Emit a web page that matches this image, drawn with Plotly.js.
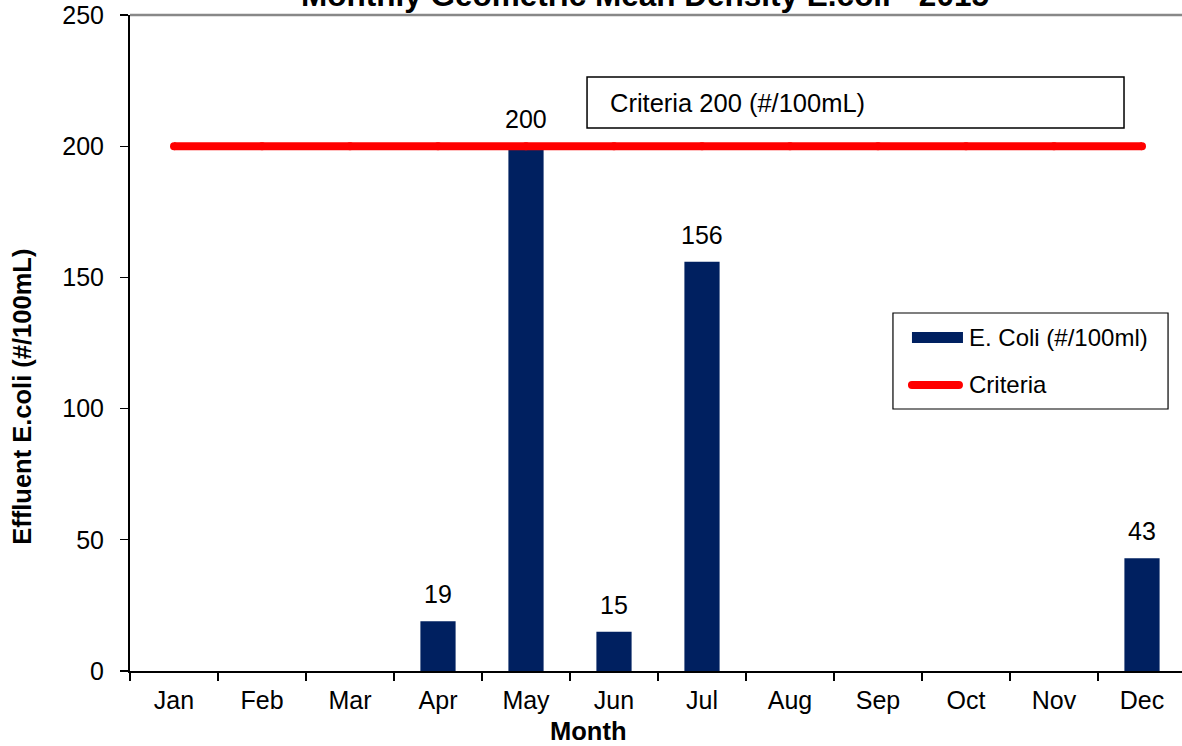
<!DOCTYPE html>
<html>
<head>
<meta charset="utf-8">
<script src="https://cdn.plot.ly/plotly-3.0.1.min.js"></script>
<style>
  html, body { margin: 0; padding: 0; overflow: hidden; background: #fff; }
  #chart { width: 1196px; height: 746px; }
</style>
</head>
<body>
<div id="chart"></div>
<script>
// Monthly geometric mean E. coli density in plant effluent
const months = ['Jan', 'Feb', 'Mar', 'Apr', 'May', 'Jun', 'Jul', 'Aug', 'Sep', 'Oct', 'Nov', 'Dec'];
const ecoli = [null, null, null, 19, 200, 15, 156, null, null, null, null, 43];
const criteria = [200, 200, 200, 200, 200, 200, 200, 200, 200, 200, 200, 200];
const yTicks = [0, 50, 100, 150, 200, 250];

const FONT = 'Arial, "Liberation Sans", sans-serif';
const NAVY = '#002060';
const RED = '#ff0000';

const bars = {
  type: 'bar',
  name: 'E. Coli (#/100ml)',
  x: months,
  y: ecoli,
  width: 0.4,
  marker: { color: NAVY, line: { width: 0 } },
  hoverinfo: 'x+y'
};

const criteriaLine = {
  type: 'scatter',
  mode: 'lines+markers',
  name: 'Criteria',
  x: months,
  y: criteria,
  line: { color: RED, width: 8 },
  marker: { color: RED, size: 8 },
  hoverinfo: 'y'
};

// value labels above each bar
const valueLabels = [];
ecoli.forEach(function (v, i) {
  if (v === null) return;
  valueLabels.push({
    x: months[i], y: v, xref: 'x', yref: 'y',
    text: String(v), showarrow: false,
    yanchor: 'bottom', yshift: 11,
    font: { family: FONT, size: 25, color: '#000' }
  });
});

const annotations = valueLabels.concat([
  {
    text: '<b>Monthly Geometric Mean Density E.coli - 2015</b>',
    xref: 'paper', yref: 'paper', x: 0.4877, y: 1.0,
    xanchor: 'center', yanchor: 'bottom', showarrow: false,
    font: { family: FONT, size: 31.5, color: '#000' }
  },
  {
    text: '<b>Effluent E.coli (#/100mL)</b>',
    xref: 'paper', yref: 'paper', x: -0.1023, y: 0.418,
    xanchor: 'center', yanchor: 'middle', textangle: -90, showarrow: false,
    font: { family: FONT, size: 25.5, color: '#000' }
  },
  {
    text: '<b>Month</b>',
    xref: 'paper', yref: 'paper', x: 0.4337, y: -0.0915,
    xanchor: 'center', yanchor: 'middle', showarrow: false,
    font: { family: FONT, size: 25.5, color: '#000' }
  },
  {
    text: 'Criteria 200 (#/100mL)',
    xref: 'paper', yref: 'paper', x: 0.4527, y: 0.8659,
    xanchor: 'left', yanchor: 'middle', showarrow: false,
    font: { family: FONT, size: 25.5, color: '#000' }
  },
  {
    text: 'E. Coli (#/100ml)',
    xref: 'paper', yref: 'paper', x: 0.7926, y: 0.5091,
    xanchor: 'left', yanchor: 'middle', showarrow: false,
    font: { family: FONT, size: 24, color: '#000' }
  },
  {
    text: 'Criteria',
    xref: 'paper', yref: 'paper', x: 0.7926, y: 0.436,
    xanchor: 'left', yanchor: 'middle', showarrow: false,
    font: { family: FONT, size: 24, color: '#000' }
  }
]);

const shapes = [
  // top border of the plot area
  { type: 'line', xref: 'paper', yref: 'paper', x0: 0, x1: 1, y0: 1, y1: 1,
    line: { color: '#888888', width: 2.5 } },
  // criteria callout box
  { type: 'rect', xref: 'paper', yref: 'paper', x0: 0.4328, x1: 0.9413, y0: 0.8277, y1: 0.9055,
    line: { color: '#000', width: 1.5 }, fillcolor: '#fff' },
  // legend frame
  { type: 'rect', xref: 'paper', yref: 'paper', x0: 0.7225, x1: 0.9830, y0: 0.3994, y1: 0.5457,
    line: { color: '#000', width: 1.2 }, fillcolor: '#fff' },
  // legend swatch: bars
  { type: 'rect', xref: 'paper', yref: 'paper', x0: 0.7405, x1: 0.7888, y0: 0.5, y1: 0.5168,
    line: { width: 0 }, fillcolor: NAVY },
  // legend swatch: criteria line (round ends)
  { type: 'line', xref: 'paper', yref: 'paper', x0: 0.7405, x1: 0.7850, y0: 0.436, y1: 0.436,
    line: { color: RED, width: 8 } },
  { type: 'circle', xref: 'paper', yref: 'paper', x0: 0.7367, x1: 0.7443, y0: 0.4299, y1: 0.4421,
    line: { width: 0 }, fillcolor: RED },
  { type: 'circle', xref: 'paper', yref: 'paper', x0: 0.7812, x1: 0.7888, y0: 0.4299, y1: 0.4421,
    line: { width: 0 }, fillcolor: RED }
];

const layout = {
  width: 1196,
  height: 746,
  margin: { l: 130, r: 10, t: 15, b: 75 },
  paper_bgcolor: '#fff',
  plot_bgcolor: '#fff',
  showlegend: false,
  bargap: 0.6,
  font: { family: FONT, size: 25, color: '#000' },
  xaxis: {
    type: 'category',
    categoryorder: 'array',
    categoryarray: months,
    range: [-0.5, 11.5],
    tickson: 'boundaries',
    ticks: 'outside',
    ticklen: 8,
    tickwidth: 1.2,
    tickcolor: '#000',
    ticklabelstandoff: 6,
    showline: true,
    linecolor: '#000',
    linewidth: 2,
    showgrid: false,
    zeroline: false,
    tickfont: { family: FONT, size: 25, color: '#000' },
    fixedrange: true
  },
  yaxis: {
    range: [0, 250],
    tickvals: yTicks,
    ticktext: yTicks.map(String),
    ticks: 'outside',
    ticklen: 8,
    tickwidth: 1.2,
    tickcolor: '#000',
    ticklabelstandoff: 11,
    showline: true,
    linecolor: '#000',
    linewidth: 2,
    showgrid: false,
    zeroline: false,
    tickfont: { family: FONT, size: 25, color: '#000' },
    fixedrange: true
  },
  shapes: shapes,
  annotations: annotations
};

Plotly.newPlot('chart', [bars, criteriaLine], layout, { displayModeBar: false, staticPlot: true });
</script>
</body>
</html>
